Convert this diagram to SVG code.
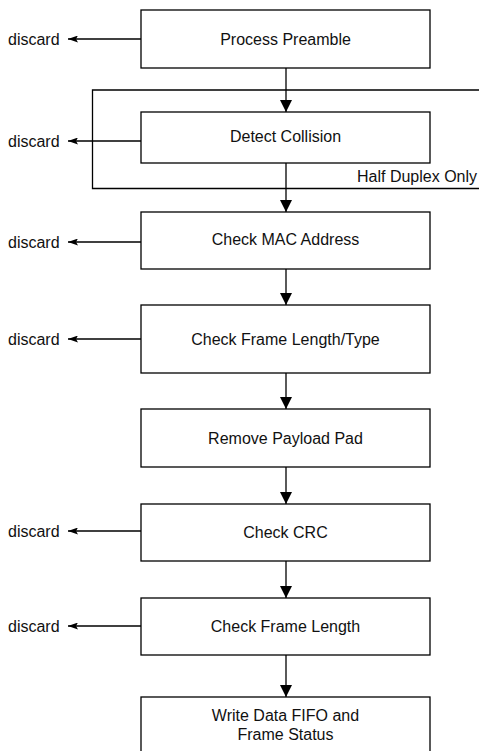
<svg xmlns="http://www.w3.org/2000/svg" width="479" height="751" viewBox="0 0 479 751">
<style>
.box{fill:#fff;stroke:#000;stroke-width:1.3}
.frame{fill:none;stroke:#000;stroke-width:1.3}
.t{font-family:"Liberation Sans",Arial,sans-serif;font-size:16px;fill:#111;text-anchor:middle}
.d{font-family:"Liberation Sans",Arial,sans-serif;font-size:16px;fill:#111}
.c{fill:none;stroke:#000;stroke-width:1.3}
.down{marker-end:url(#ah)}
.left{marker-end:url(#sh)}
</style>
<defs>
<marker id="ah" markerUnits="userSpaceOnUse" markerWidth="12" markerHeight="12" refX="12" refY="6" orient="auto">
<path d="M0,0 L12,6 L0,12 z" fill="#000"/>
</marker>
<marker id="sh" markerUnits="userSpaceOnUse" markerWidth="10" markerHeight="7" refX="10" refY="3.5" orient="auto">
<path d="M0,0 L10,3.5 L0,7 L2,3.5 z" fill="#000"/>
</marker>
</defs>
<g id="half-duplex-frame">
<path class="frame" d="M490,90 L92.5,90 L92.5,188.5 L490,188.5"/>
<text class="d" x="357" y="181.5">Half Duplex Only</text>
</g>
<g id="connectors">
<line class="c down" x1="286" y1="68" x2="286" y2="112"/>
<line class="c down" x1="286" y1="163" x2="286" y2="212"/>
<line class="c down" x1="286" y1="269" x2="286" y2="305"/>
<line class="c down" x1="286" y1="373" x2="286" y2="409"/>
<line class="c down" x1="286" y1="467" x2="286" y2="504"/>
<line class="c down" x1="286" y1="561" x2="286" y2="598"/>
<line class="c down" x1="286" y1="655" x2="286" y2="697"/>
<line class="c left" x1="141" y1="39" x2="68" y2="39"/>
<line class="c left" x1="141" y1="141" x2="68" y2="141"/>
<line class="c left" x1="141" y1="242" x2="68" y2="242"/>
<line class="c left" x1="141" y1="339" x2="68" y2="339"/>
<line class="c left" x1="141" y1="531" x2="68" y2="531"/>
<line class="c left" x1="141" y1="626" x2="68" y2="626"/>
</g>
<g id="discard-labels">
<text class="d" x="8" y="45">discard</text>
<text class="d" x="8" y="147">discard</text>
<text class="d" x="8" y="248">discard</text>
<text class="d" x="8" y="345">discard</text>
<text class="d" x="8" y="537">discard</text>
<text class="d" x="8" y="632">discard</text>
</g>
<g id="process-preamble">
<rect class="box" x="141" y="10" width="289" height="58"/>
<text class="t" x="285.5" y="44.7">Process Preamble</text>
</g>
<g id="detect-collision">
<rect class="box" x="141" y="112" width="289" height="51"/>
<text class="t" x="285.5" y="142">Detect Collision</text>
</g>
<g id="check-mac">
<rect class="box" x="141" y="212" width="289" height="57"/>
<text class="t" x="285.5" y="245">Check MAC Address</text>
</g>
<g id="check-length-type">
<rect class="box" x="141" y="305" width="289" height="68"/>
<text class="t" x="285.5" y="344.5">Check Frame Length/Type</text>
</g>
<g id="remove-pad">
<rect class="box" x="141" y="409" width="289" height="58"/>
<text class="t" x="285.5" y="443.5">Remove Payload Pad</text>
</g>
<g id="check-crc">
<rect class="box" x="141" y="504" width="289" height="57"/>
<text class="t" x="285.5" y="537.5">Check CRC</text>
</g>
<g id="check-frame-length">
<rect class="box" x="141" y="598" width="289" height="57"/>
<text class="t" x="285.5" y="631.5">Check Frame Length</text>
</g>
<g id="write-fifo">
<rect class="box" x="141" y="697" width="289" height="70"/>
<text class="t" x="285.5" y="721">Write Data FIFO and</text>
<text class="t" x="285.5" y="739.5">Frame Status</text>
</g>
</svg>
